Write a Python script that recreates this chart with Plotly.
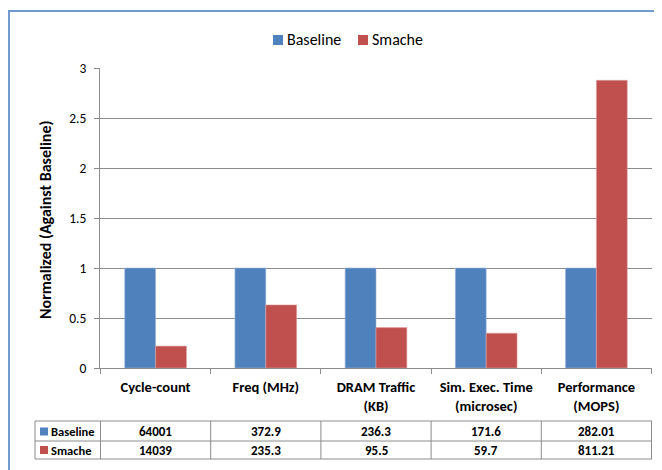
import plotly.graph_objects as go

# ---- data ----
categories = ["Cycle-count", "Freq (MHz)", "DRAM Traffic<br>(KB)",
              "Sim. Exec. Time<br>(microsec)", "Performance<br>(MOPS)"]
series_names = ["Baseline", "Smache"]
baseline_norm = [1.0, 1.0, 1.0, 1.0, 1.0]
smache_norm = [0.219, 0.631, 0.404, 0.348, 2.877]
baseline_raw = ["64001", "372.9", "236.3", "171.6", "282.01"]
smache_raw = ["14039", "235.3", "95.5", "59.7", "811.21"]
y_ticks = [0, 0.5, 1, 1.5, 2, 2.5, 3]

BLUE = "#4F81BD"
RED = "#C0504D"
GRID = "#8C8C8C"
FONT = "Carlito, Lato, sans-serif"
W, H = 662, 470
OFF = 8  # page offset of the figure inside the browser window


def px(x):
    return (x - OFF) / W


def py(y):
    return 1 - (y - OFF) / H


cat_labels = ["<b>%s</b>" % c for c in categories]

fig = go.Figure()
fig.add_trace(go.Bar(x=cat_labels, y=baseline_norm, name=series_names[0], showlegend=False,
                     marker=dict(color=BLUE, line=dict(width=0.6, color="#9DB7DA"))))
fig.add_trace(go.Bar(x=cat_labels, y=smache_norm, name=series_names[1], showlegend=False,
                     marker=dict(color=RED, line=dict(width=0.6, color="#DCA3A2"))))

shapes = []
annotations = []

# outer chart border
shapes.append(dict(type="rect", xref="paper", yref="paper",
                   x0=px(9), x1=px(720), y0=py(520), y1=py(11),
                   line=dict(color="#6F9BD1", width=2)))

# legend (drawn manually)
leg_items = [(series_names[0], BLUE, 273), (series_names[1], RED, 358)]
for name, color, x0 in leg_items:
    shapes.append(dict(type="rect", xref="paper", yref="paper",
                       x0=px(x0), x1=px(x0 + 10), y0=py(45), y1=py(35),
                       fillcolor=color, line=dict(width=0)))
    annotations.append(dict(text=name, xref="paper", yref="paper",
                            x=px(x0 + 12), y=py(40), xanchor="left", yanchor="middle",
                            showarrow=False, font=dict(family=FONT, size=16, color="black")))

# data table
t_top, t_mid, t_bot = 421, 441, 459
t_left = 35
line_style = dict(color="#8C8C8C", width=1)
for yy in (t_top, t_mid, t_bot):
    shapes.append(dict(type="line", xref="paper", yref="paper",
                       x0=px(t_left), x1=px(652), y0=py(yy), y1=py(yy), line=line_style))
shapes.append(dict(type="line", xref="paper", yref="paper",
                   x0=px(t_left), x1=px(t_left), y0=py(t_top), y1=py(t_bot), line=line_style))
for i in range(len(categories) + 1):
    shapes.append(dict(type="line", xref="x", yref="paper",
                       x0=i - 0.5, x1=i - 0.5, y0=py(t_top), y1=py(t_bot), line=line_style))

rows = [(series_names[0], BLUE, baseline_raw, 431.5),
        (series_names[1], RED, smache_raw, 450)]
for name, color, vals, yc in rows:
    shapes.append(dict(type="rect", xref="paper", yref="paper",
                       x0=px(40), x1=px(48), y0=py(yc + 4), y1=py(yc - 4),
                       fillcolor=color, line=dict(width=0)))
    annotations.append(dict(text="<b>%s</b>" % name, xref="paper", yref="paper",
                            x=px(49), y=py(yc), xanchor="left", yanchor="middle",
                            showarrow=False, font=dict(family=FONT, size=12.5, color="black")))
    for i, v in enumerate(vals):
        annotations.append(dict(text="<b>%s</b>" % v, xref="x", yref="paper",
                                x=i, y=py(yc), xanchor="center", yanchor="middle",
                                showarrow=False, font=dict(family=FONT, size=13, color="black")))

# y axis title
annotations.append(dict(text="<b>Normalized (Against Baseline)</b>", xref="paper", yref="paper",
                        x=px(45), y=py(220), textangle=-90, xanchor="center", yanchor="middle",
                        showarrow=False, font=dict(family=FONT, size=16, color="black")))

fig.update_layout(
    width=W, height=H,
    margin=dict(l=0, r=0, t=0, b=0, pad=0),
    paper_bgcolor="white", plot_bgcolor="white",
    barmode="group", bargap=0.44, bargroupgap=0,
    font=dict(family=FONT, color="black"),
    showlegend=False,
    xaxis=dict(domain=[px(100), px(652)], type="category", tickson="boundaries",
               ticks="outside", ticklen=5, tickcolor=GRID, showline=True, linecolor=GRID,
               linewidth=1, showgrid=False, tickfont=dict(family=FONT, size=14.5, color="black"),
               ticklabelstandoff=6, fixedrange=True, automargin=False),
    yaxis=dict(domain=[py(368), py(68)], range=[0, 3], tickvals=y_ticks,
               ticktext=[("%g" % v) for v in y_ticks],
               ticks="outside", ticklen=5, tickcolor=GRID, showline=True, linecolor=GRID,
               linewidth=1, showgrid=True, gridcolor=GRID, gridwidth=1, zeroline=False,
               tickfont=dict(family=FONT, size=13.5, color="black"), ticklabelstandoff=5,
               fixedrange=True, automargin=False),
    shapes=shapes,
    annotations=annotations,
)

fig.write_html("out.html")
